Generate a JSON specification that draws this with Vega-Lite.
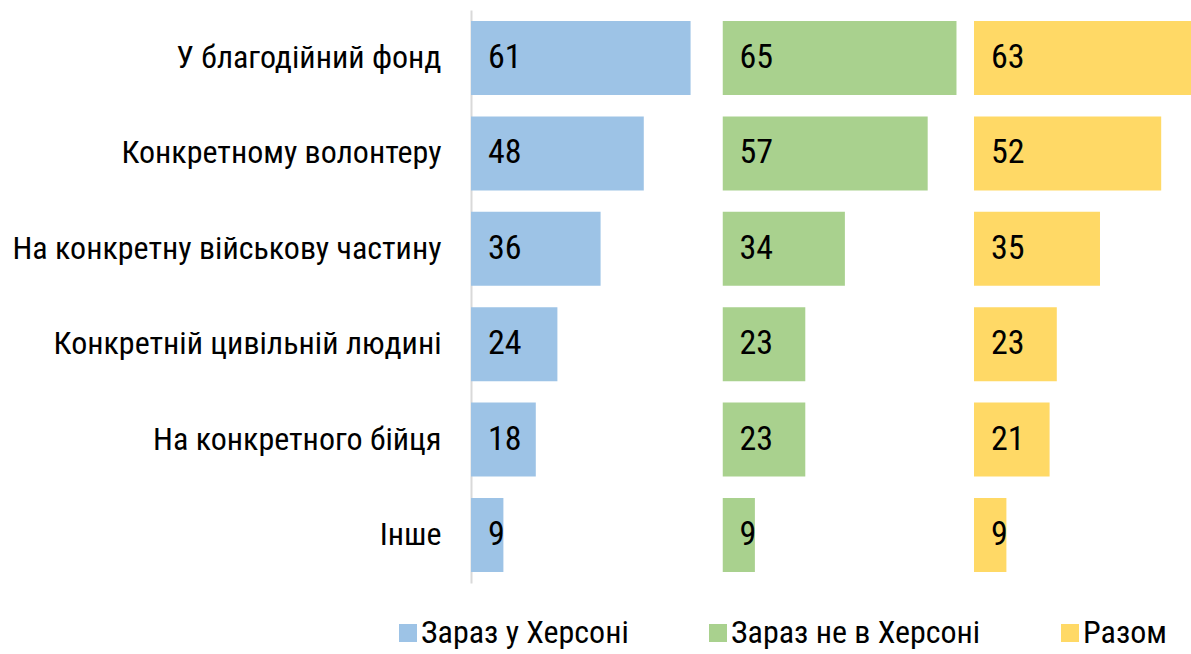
{
  "$schema": "https://vega.github.io/schema/vega-lite/v6.json",
  "padding": {"left": 12, "top": 10, "right": 0, "bottom": 0},
  "config": {"view": {"stroke": null}, "font": "Roboto Condensed"},
  "data": {"values": [
    {"cat": "У благодійний фонд", "g": "Зараз у Херсоні", "v": 61},
    {"cat": "Конкретному волонтеру", "g": "Зараз у Херсоні", "v": 48},
    {"cat": "На конкретну військову частину", "g": "Зараз у Херсоні", "v": 36},
    {"cat": "Конкретній цивільній людині", "g": "Зараз у Херсоні", "v": 24},
    {"cat": "На конкретного бійця", "g": "Зараз у Херсоні", "v": 18},
    {"cat": "Інше", "g": "Зараз у Херсоні", "v": 9},
    {"cat": "У благодійний фонд", "g": "Зараз не в Херсоні", "v": 65},
    {"cat": "Конкретному волонтеру", "g": "Зараз не в Херсоні", "v": 57},
    {"cat": "На конкретну військову частину", "g": "Зараз не в Херсоні", "v": 34},
    {"cat": "Конкретній цивільній людині", "g": "Зараз не в Херсоні", "v": 23},
    {"cat": "На конкретного бійця", "g": "Зараз не в Херсоні", "v": 23},
    {"cat": "Інше", "g": "Зараз не в Херсоні", "v": 9},
    {"cat": "У благодійний фонд", "g": "Разом", "v": 63},
    {"cat": "Конкретному волонтеру", "g": "Разом", "v": 52},
    {"cat": "На конкретну військову частину", "g": "Разом", "v": 35},
    {"cat": "Конкретній цивільній людині", "g": "Разом", "v": 23},
    {"cat": "На конкретного бійця", "g": "Разом", "v": 21},
    {"cat": "Інше", "g": "Разом", "v": 9}
  ]},
  "spacing": 15.5,
  "resolve": {"scale": {"y": "shared", "color": "shared"}},
  "hconcat": [
    {
      "width": 236, "height": 573,
      "transform": [{"filter": "datum.g === 'Зараз у Херсоні'"}],
      "encoding": {
        "y": {"field": "cat", "type": "nominal",
          "sort": ["У благодійний фонд", "Конкретному волонтеру", "На конкретну військову частину", "Конкретній цивільній людині", "На конкретного бійця", "Інше"],
          "scale": {"paddingInner": 0.224, "paddingOuter": 0.115},
          "axis": {"title": null, "ticks": false, "labelPadding": 30, "labelFontSize": 32, "labelColor": "#000", "labelFont": "Roboto Condensed", "domainColor": "#d9d9d9", "domainWidth": 2, "labelLimit": 1000}},
        "x": {"field": "v", "type": "quantitative", "scale": {"domain": [0, 65.56], "nice": false}, "axis": null}
      },
      "layer": [
        {"mark": {"type": "bar", "clip": true},
         "encoding": {"color": {"field": "g", "type": "nominal",
           "scale": {"domain": ["Зараз у Херсоні", "Зараз не в Херсоні", "Разом"], "range": ["#9dc3e6", "#a9d18e", "#ffd966"]},
           "legend": {"orient": "none", "legendX": -79, "legendY": 607, "direction": "horizontal", "columns": 3, "title": null, "symbolType": "square", "symbolSize": 324, "symbolStrokeWidth": 0, "symbolOpacity": 1, "labelFont": "Roboto Condensed", "labelFontSize": 32, "labelColor": "#000", "columnPadding": 73, "labelOffset": -3, "labelLimit": 1000}}}},
        {"mark": {"type": "text", "align": "left", "dx": 17, "fontSize": 34, "color": "#000", "font": "Roboto Condensed"},
         "encoding": {"x": {"datum": 0}, "text": {"field": "v"}}}
      ]
    },
    {
      "width": 236, "height": 573,
      "transform": [{"filter": "datum.g === 'Зараз не в Херсоні'"}],
      "encoding": {
        "y": {"field": "cat", "type": "nominal",
          "sort": ["У благодійний фонд", "Конкретному волонтеру", "На конкретну військову частину", "Конкретній цивільній людині", "На конкретного бійця", "Інше"],
          "scale": {"paddingInner": 0.224, "paddingOuter": 0.115},
          "axis": null},
        "x": {"field": "v", "type": "quantitative", "scale": {"domain": [0, 65.56], "nice": false}, "axis": null}
      },
      "layer": [
        {"mark": {"type": "bar", "clip": true},
         "encoding": {"color": {"field": "g", "type": "nominal",
           "scale": {"domain": ["Зараз у Херсоні", "Зараз не в Херсоні", "Разом"], "range": ["#9dc3e6", "#a9d18e", "#ffd966"]},
           "legend": {"orient": "none", "legendX": -79, "legendY": 607, "direction": "horizontal", "columns": 3, "title": null, "symbolType": "square", "symbolSize": 324, "symbolStrokeWidth": 0, "symbolOpacity": 1, "labelFont": "Roboto Condensed", "labelFontSize": 32, "labelColor": "#000", "columnPadding": 73, "labelOffset": -3, "labelLimit": 1000}}}},
        {"mark": {"type": "text", "align": "left", "dx": 17, "fontSize": 34, "color": "#000", "font": "Roboto Condensed"},
         "encoding": {"x": {"datum": 0}, "text": {"field": "v"}}}
      ]
    },
    {
      "width": 217, "height": 573,
      "transform": [{"filter": "datum.g === 'Разом'"}],
      "encoding": {
        "y": {"field": "cat", "type": "nominal",
          "sort": ["У благодійний фонд", "Конкретному волонтеру", "На конкретну військову частину", "Конкретній цивільній людині", "На конкретного бійця", "Інше"],
          "scale": {"paddingInner": 0.224, "paddingOuter": 0.115},
          "axis": null},
        "x": {"field": "v", "type": "quantitative", "scale": {"domain": [0, 60.28], "nice": false}, "axis": null}
      },
      "layer": [
        {"mark": {"type": "bar", "clip": true},
         "encoding": {"color": {"field": "g", "type": "nominal",
           "scale": {"domain": ["Зараз у Херсоні", "Зараз не в Херсоні", "Разом"], "range": ["#9dc3e6", "#a9d18e", "#ffd966"]},
           "legend": {"orient": "none", "legendX": -79, "legendY": 607, "direction": "horizontal", "columns": 3, "title": null, "symbolType": "square", "symbolSize": 324, "symbolStrokeWidth": 0, "symbolOpacity": 1, "labelFont": "Roboto Condensed", "labelFontSize": 32, "labelColor": "#000", "columnPadding": 73, "labelOffset": -3, "labelLimit": 1000}}}},
        {"mark": {"type": "text", "align": "left", "dx": 17, "fontSize": 34, "color": "#000", "font": "Roboto Condensed"},
         "encoding": {"x": {"datum": 0}, "text": {"field": "v"}}}
      ]
    }
  ]
}
